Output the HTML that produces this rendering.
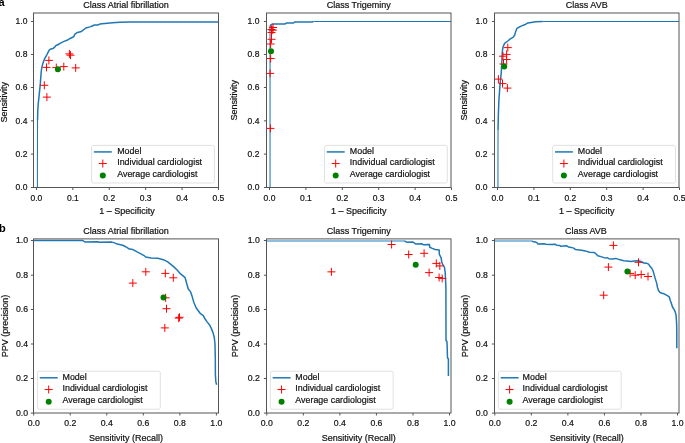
<!DOCTYPE html>
<html><head><meta charset="utf-8"><style>
html,body{margin:0;padding:0;background:#fff;}
svg{display:block;}
text{font-family:"Liberation Sans", sans-serif;fill:#111;stroke:#111;stroke-width:0.2px;filter:grayscale(1);}
.tk{font-size:8.5px;}
.tk2{font-size:8.7px;}
.lb{font-size:9px;}
.lg{font-size:8.9px;}
.yl{stroke-width:0.2px;}
.pl{font-size:11px;font-weight:bold;fill:#000;stroke:none;}
</style></head><body>
<svg width="685" height="443" viewBox="0 0 685 443">
<rect width="685" height="443" fill="#fff"/>
<clipPath id="ct0"><rect x="33.5" y="13.0" width="185" height="174.5"/></clipPath>
<polyline clip-path="url(#ct0)" points="37.4,187.4 37.45,150 37.55,120" fill="none" stroke="#1f77b4" stroke-width="1.05" stroke-linejoin="round"/>
<polyline clip-path="url(#ct0)" points="37.55,120 37.8,110 38.2,104.2 39.2,94.7 40.2,85.2 40.8,77.1 41.3,71 41.75,68 42.4,65.1 43.45,61.7 44.8,58.3 46.8,54.9 48.2,52.2 48.9,50.6 50.2,49.2 52.9,48.6 54.6,47.2 56,45.5 58.3,44.5 60,43.4 63.5,41.6 67,40.3 69.6,38.7 73.6,36.8 74.9,34.2 77.5,32.4 81.5,31.4 85.8,28 89.8,26.9 92.8,25.8 94.2,25 97.7,25 99.8,24.1 104.7,23.4 112.5,22.8 120,22.25 130,22.1 218.5,22.1" fill="none" stroke="#1f77b4" stroke-width="1.5" stroke-linejoin="round"/>
<path d="M44.9 60.4H52.9M48.9 56.4V64.4" stroke="#ff0000" stroke-width="1"/>
<path d="M42.5 67.4H50.5M46.5 63.4V71.4" stroke="#ff0000" stroke-width="1"/>
<path d="M52.3 67.6H60.3M56.3 63.6V71.6" stroke="#ff0000" stroke-width="1"/>
<path d="M59.8 66.6H67.8M63.8 62.6V70.6" stroke="#ff0000" stroke-width="1"/>
<path d="M71.7 67.9H79.7M75.7 63.9V71.9" stroke="#ff0000" stroke-width="1"/>
<path d="M65.4 53.9H73.4M69.4 49.9V57.9" stroke="#ff0000" stroke-width="1"/>
<path d="M66.5 55.2H74.5M70.5 51.2V59.2" stroke="#ff0000" stroke-width="1"/>
<path d="M40.3 85.3H48.3M44.3 81.3V89.3" stroke="#ff0000" stroke-width="1"/>
<path d="M42.9 97.1H50.9M46.9 93.1V101.1" stroke="#ff0000" stroke-width="1"/>
<circle cx="57.9" cy="69.2" r="3" fill="#008000"/>
<rect x="33.5" y="13.0" width="185" height="174.5" fill="none" stroke="#555" stroke-width="1"/>
<line x1="36.45" y1="187.5" x2="36.45" y2="190" stroke="#555" stroke-width="1"/>
<text x="36.45" y="201" text-anchor="middle" class="tk">0.0</text>
<line x1="72.85" y1="187.5" x2="72.85" y2="190" stroke="#555" stroke-width="1"/>
<text x="72.85" y="201" text-anchor="middle" class="tk">0.1</text>
<line x1="109.25" y1="187.5" x2="109.25" y2="190" stroke="#555" stroke-width="1"/>
<text x="109.25" y="201" text-anchor="middle" class="tk">0.2</text>
<line x1="145.65" y1="187.5" x2="145.65" y2="190" stroke="#555" stroke-width="1"/>
<text x="145.65" y="201" text-anchor="middle" class="tk">0.3</text>
<line x1="182.05" y1="187.5" x2="182.05" y2="190" stroke="#555" stroke-width="1"/>
<text x="182.05" y="201" text-anchor="middle" class="tk">0.4</text>
<line x1="218.45" y1="187.5" x2="218.45" y2="190" stroke="#555" stroke-width="1"/>
<text x="218.45" y="201" text-anchor="middle" class="tk">0.5</text>
<line x1="30.9" y1="187.5" x2="33.5" y2="187.5" stroke="#555" stroke-width="1"/>
<text x="27.4" y="190.45" text-anchor="end" class="tk">0.0</text>
<line x1="30.9" y1="154.1" x2="33.5" y2="154.1" stroke="#555" stroke-width="1"/>
<text x="27.4" y="157.05" text-anchor="end" class="tk">0.2</text>
<line x1="30.9" y1="120.85" x2="33.5" y2="120.85" stroke="#555" stroke-width="1"/>
<text x="27.4" y="123.8" text-anchor="end" class="tk">0.4</text>
<line x1="30.9" y1="87.5" x2="33.5" y2="87.5" stroke="#555" stroke-width="1"/>
<text x="27.4" y="90.45" text-anchor="end" class="tk">0.6</text>
<line x1="30.9" y1="54.5" x2="33.5" y2="54.5" stroke="#555" stroke-width="1"/>
<text x="27.4" y="57.45" text-anchor="end" class="tk">0.8</text>
<line x1="30.9" y1="21.5" x2="33.5" y2="21.5" stroke="#555" stroke-width="1"/>
<text x="27.4" y="24.45" text-anchor="end" class="tk">1.0</text>
<text x="126" y="8" text-anchor="middle" class="lb">Class Atrial fibrillation</text>
<text x="127.1" y="213.5" text-anchor="middle" class="lb">1 – Specificity</text>
<text transform="translate(6.8,102.35) rotate(-90)" text-anchor="middle" class="lb yl">Sensitivity</text>
<rect x="91.6" y="145.4" width="122.8" height="37.6" rx="1.8" fill="#fff" fill-opacity="0.8" stroke="#d9d9d9" stroke-width="0.8"/>
<line x1="93.9" y1="151.92" x2="111.8" y2="151.92" stroke="#1f77b4" stroke-width="1.5"/>
<path d="M98.8 163.55H106.8M102.8 159.55V167.55" stroke="#ff0000" stroke-width="1"/>
<circle cx="102.8" cy="175.58" r="3" fill="#008000"/>
<text x="117.2" y="154" class="lg">Model</text>
<text x="117.2" y="165.3" class="lg">Individual cardiologist</text>
<text x="117.2" y="177.2" class="lg">Average cardiologist</text>
<clipPath id="ct1"><rect x="266.5" y="13.0" width="184.5" height="174.5"/></clipPath>
<polyline clip-path="url(#ct1)" points="270.05,187.4 270.05,28" fill="none" stroke="#1f77b4" stroke-width="1.05" stroke-linejoin="round"/>
<polyline clip-path="url(#ct1)" points="313.4,21.5 451,21.45" fill="none" stroke="#1f77b4" stroke-width="1.05" stroke-linejoin="round"/>
<polyline clip-path="url(#ct1)" points="270.05,28 270.1,26.5 270.6,25.2 271.6,24.4 273.1,24 284.8,24 286.9,22.9 293.5,22.9 295,21.9 311.9,22 313.4,21.5" fill="none" stroke="#1f77b4" stroke-width="1.5" stroke-linejoin="round"/>
<path d="M269 27.5H277M273 23.5V31.5" stroke="#ff0000" stroke-width="1"/>
<path d="M267.5 29.5H275.5M271.5 25.5V33.5" stroke="#ff0000" stroke-width="1"/>
<path d="M268.8 30.2H276.8M272.8 26.2V34.2" stroke="#ff0000" stroke-width="1"/>
<path d="M267.5 32.5H275.5M271.5 28.5V36.5" stroke="#ff0000" stroke-width="1"/>
<path d="M267.5 39.3H275.5M271.5 35.3V43.3" stroke="#ff0000" stroke-width="1"/>
<path d="M266.6 44H274.6M270.6 40V48" stroke="#ff0000" stroke-width="1"/>
<path d="M266.6 58.5H274.6M270.6 54.5V62.5" stroke="#ff0000" stroke-width="1"/>
<path d="M266.1 73.4H274.1M270.1 69.4V77.4" stroke="#ff0000" stroke-width="1"/>
<path d="M266.4 128.4H274.4M270.4 124.4V132.4" stroke="#ff0000" stroke-width="1"/>
<circle cx="271" cy="51.3" r="3" fill="#008000"/>
<rect x="266.5" y="13.0" width="184.5" height="174.5" fill="none" stroke="#555" stroke-width="1"/>
<line x1="269.5" y1="187.5" x2="269.5" y2="190" stroke="#555" stroke-width="1"/>
<text x="269.5" y="201" text-anchor="middle" class="tk">0.0</text>
<line x1="305.9" y1="187.5" x2="305.9" y2="190" stroke="#555" stroke-width="1"/>
<text x="305.9" y="201" text-anchor="middle" class="tk">0.1</text>
<line x1="342.3" y1="187.5" x2="342.3" y2="190" stroke="#555" stroke-width="1"/>
<text x="342.3" y="201" text-anchor="middle" class="tk">0.2</text>
<line x1="378.7" y1="187.5" x2="378.7" y2="190" stroke="#555" stroke-width="1"/>
<text x="378.7" y="201" text-anchor="middle" class="tk">0.3</text>
<line x1="415.1" y1="187.5" x2="415.1" y2="190" stroke="#555" stroke-width="1"/>
<text x="415.1" y="201" text-anchor="middle" class="tk">0.4</text>
<line x1="451.5" y1="187.5" x2="451.5" y2="190" stroke="#555" stroke-width="1"/>
<text x="451.5" y="201" text-anchor="middle" class="tk">0.5</text>
<line x1="263.9" y1="187.5" x2="266.5" y2="187.5" stroke="#555" stroke-width="1"/>
<text x="259.45" y="190.45" text-anchor="end" class="tk">0.0</text>
<line x1="263.9" y1="154.1" x2="266.5" y2="154.1" stroke="#555" stroke-width="1"/>
<text x="259.45" y="157.05" text-anchor="end" class="tk">0.2</text>
<line x1="263.9" y1="120.85" x2="266.5" y2="120.85" stroke="#555" stroke-width="1"/>
<text x="259.45" y="123.8" text-anchor="end" class="tk">0.4</text>
<line x1="263.9" y1="87.5" x2="266.5" y2="87.5" stroke="#555" stroke-width="1"/>
<text x="259.45" y="90.45" text-anchor="end" class="tk">0.6</text>
<line x1="263.9" y1="54.5" x2="266.5" y2="54.5" stroke="#555" stroke-width="1"/>
<text x="259.45" y="57.45" text-anchor="end" class="tk">0.8</text>
<line x1="263.9" y1="21.5" x2="266.5" y2="21.5" stroke="#555" stroke-width="1"/>
<text x="259.45" y="24.45" text-anchor="end" class="tk">1.0</text>
<text x="358.75" y="8" text-anchor="middle" class="lb">Class Trigeminy</text>
<text x="358.75" y="213.5" text-anchor="middle" class="lb">1 – Specificity</text>
<text transform="translate(237.25,100.25) rotate(-90)" text-anchor="middle" class="lb yl">Sensitivity</text>
<rect x="324.5" y="145.4" width="122.8" height="37.6" rx="1.8" fill="#fff" fill-opacity="0.8" stroke="#d9d9d9" stroke-width="0.8"/>
<line x1="326.8" y1="151.92" x2="344.7" y2="151.92" stroke="#1f77b4" stroke-width="1.5"/>
<path d="M331.7 163.55H339.7M335.7 159.55V167.55" stroke="#ff0000" stroke-width="1"/>
<circle cx="335.7" cy="175.58" r="3" fill="#008000"/>
<text x="349.8" y="154" class="lg">Model</text>
<text x="349.8" y="165.3" class="lg">Individual cardiologist</text>
<text x="349.8" y="177.2" class="lg">Average cardiologist</text>
<clipPath id="ct2"><rect x="494.5" y="13.0" width="184.5" height="174.5"/></clipPath>
<polyline clip-path="url(#ct2)" points="497.95,187.4 497.98,150 498.05,130" fill="none" stroke="#1f77b4" stroke-width="1.05" stroke-linejoin="round"/>
<polyline clip-path="url(#ct2)" points="542.8,21.6 560,21.5 679,21.5" fill="none" stroke="#1f77b4" stroke-width="1.05" stroke-linejoin="round"/>
<polyline clip-path="url(#ct2)" points="498.05,130 498.3,116.5 498.9,100 499.5,92 500.1,83.6 500.8,77 501.3,72 501.8,62.3 502.1,55.5 502.5,50.1 503.1,46.7 504.6,43.4 507.8,41 510,39.2 513.3,37.2 514.7,35 515.5,32.1 516.9,28.4 518.8,27.3 521.7,25.9 524.6,24.8 527.5,23.1 531.2,22.4 535.5,21.8 542.8,21.6" fill="none" stroke="#1f77b4" stroke-width="1.5" stroke-linejoin="round"/>
<path d="M503.8 47.6H511.8M507.8 43.6V51.6" stroke="#ff0000" stroke-width="1"/>
<path d="M502.6 54.4H510.6M506.6 50.4V58.4" stroke="#ff0000" stroke-width="1"/>
<path d="M499 56.2H507M503 52.2V60.2" stroke="#ff0000" stroke-width="1"/>
<path d="M502.6 59.5H510.6M506.6 55.5V63.5" stroke="#ff0000" stroke-width="1"/>
<path d="M499.5 64H507.5M503.5 60V68" stroke="#ff0000" stroke-width="1"/>
<path d="M494.4 79.1H502.4M498.4 75.1V83.1" stroke="#ff0000" stroke-width="1"/>
<path d="M498.5 83.6H506.5M502.5 79.6V87.6" stroke="#ff0000" stroke-width="1"/>
<path d="M503.4 88.1H511.4M507.4 84.1V92.1" stroke="#ff0000" stroke-width="1"/>
<circle cx="504.2" cy="66.4" r="3" fill="#008000"/>
<rect x="494.5" y="13.0" width="184.5" height="174.5" fill="none" stroke="#555" stroke-width="1"/>
<line x1="497.5" y1="187.5" x2="497.5" y2="190" stroke="#555" stroke-width="1"/>
<text x="497.5" y="201" text-anchor="middle" class="tk">0.0</text>
<line x1="533.9" y1="187.5" x2="533.9" y2="190" stroke="#555" stroke-width="1"/>
<text x="533.9" y="201" text-anchor="middle" class="tk">0.1</text>
<line x1="570.3" y1="187.5" x2="570.3" y2="190" stroke="#555" stroke-width="1"/>
<text x="570.3" y="201" text-anchor="middle" class="tk">0.2</text>
<line x1="606.7" y1="187.5" x2="606.7" y2="190" stroke="#555" stroke-width="1"/>
<text x="606.7" y="201" text-anchor="middle" class="tk">0.3</text>
<line x1="643.1" y1="187.5" x2="643.1" y2="190" stroke="#555" stroke-width="1"/>
<text x="643.1" y="201" text-anchor="middle" class="tk">0.4</text>
<line x1="679.5" y1="187.5" x2="679.5" y2="190" stroke="#555" stroke-width="1"/>
<text x="679.5" y="201" text-anchor="middle" class="tk">0.5</text>
<line x1="491.9" y1="187.5" x2="494.5" y2="187.5" stroke="#555" stroke-width="1"/>
<text x="487.4" y="190.45" text-anchor="end" class="tk">0.0</text>
<line x1="491.9" y1="154.1" x2="494.5" y2="154.1" stroke="#555" stroke-width="1"/>
<text x="487.4" y="157.05" text-anchor="end" class="tk">0.2</text>
<line x1="491.9" y1="120.85" x2="494.5" y2="120.85" stroke="#555" stroke-width="1"/>
<text x="487.4" y="123.8" text-anchor="end" class="tk">0.4</text>
<line x1="491.9" y1="87.5" x2="494.5" y2="87.5" stroke="#555" stroke-width="1"/>
<text x="487.4" y="90.45" text-anchor="end" class="tk">0.6</text>
<line x1="491.9" y1="54.5" x2="494.5" y2="54.5" stroke="#555" stroke-width="1"/>
<text x="487.4" y="57.45" text-anchor="end" class="tk">0.8</text>
<line x1="491.9" y1="21.5" x2="494.5" y2="21.5" stroke="#555" stroke-width="1"/>
<text x="487.4" y="24.45" text-anchor="end" class="tk">1.0</text>
<text x="586.75" y="8" text-anchor="middle" class="lb">Class AVB</text>
<text x="586.75" y="213.5" text-anchor="middle" class="lb">1 – Specificity</text>
<text transform="translate(466.5,100.25) rotate(-90)" text-anchor="middle" class="lb yl">Sensitivity</text>
<rect x="552.7" y="145.4" width="122.8" height="37.6" rx="1.8" fill="#fff" fill-opacity="0.8" stroke="#d9d9d9" stroke-width="0.8"/>
<line x1="555" y1="151.92" x2="572.9" y2="151.92" stroke="#1f77b4" stroke-width="1.5"/>
<path d="M559.9 163.55H567.9M563.9 159.55V167.55" stroke="#ff0000" stroke-width="1"/>
<circle cx="563.9" cy="175.58" r="3" fill="#008000"/>
<text x="577.8" y="154" class="lg">Model</text>
<text x="577.8" y="165.3" class="lg">Individual cardiologist</text>
<text x="577.8" y="177.2" class="lg">Average cardiologist</text>
<clipPath id="cb0"><rect x="33.5" y="238.9" width="185" height="174.1"/></clipPath>
<polyline clip-path="url(#cb0)" points="33.6,240.4 82.6,240.4 84.8,242 97.9,241.8 99.2,242.3 111.9,242.1 114.5,242.9 117.2,244.1 120.7,244.8 123.3,245.5 126.8,247.4 129.4,249.1 132.9,249.6 137.6,252.2 143.7,255.3 145.7,257 151.2,258 157.9,258.3 163.3,259.7 167.4,261.7 170.8,264.4 174.2,267.1 177.6,270.5 180.3,273.7 185.1,277.7 186.6,283.2 188.2,288.7 190.6,291.9 192.2,296.6 193.8,302.2 196.1,307.7 200.1,313.3 203.3,315.6 204.9,318.8 207.3,322.1 209.8,325.3 211.4,328.6 213,332.6 214.3,337.5 215,344 215.3,358.7 215.4,374.9 215.8,381.4 216.6,384.7" fill="none" stroke="#1f77b4" stroke-width="1.5" stroke-linejoin="round"/>
<path d="M141.8 271.8H149.8M145.8 267.8V275.8" stroke="#ff0000" stroke-width="1"/>
<path d="M128.8 283.1H136.8M132.8 279.1V287.1" stroke="#ff0000" stroke-width="1"/>
<path d="M161.3 273.4H169.3M165.3 269.4V277.4" stroke="#ff0000" stroke-width="1"/>
<path d="M169.3 277.8H177.3M173.3 273.8V281.8" stroke="#ff0000" stroke-width="1"/>
<path d="M161.6 297.8H169.6M165.6 293.8V301.8" stroke="#ff0000" stroke-width="1"/>
<path d="M162.5 308.7H170.5M166.5 304.7V312.7" stroke="#ff0000" stroke-width="1"/>
<path d="M175.5 317.3H183.5M179.5 313.3V321.3" stroke="#ff0000" stroke-width="1"/>
<path d="M174.7 318.1H182.7M178.7 314.1V322.1" stroke="#ff0000" stroke-width="1"/>
<path d="M160.8 327.9H168.8M164.8 323.9V331.9" stroke="#ff0000" stroke-width="1"/>
<circle cx="163.5" cy="297.4" r="3" fill="#008000"/>
<rect x="33.5" y="238.9" width="185" height="174.1" fill="none" stroke="#555" stroke-width="1"/>
<line x1="33.7" y1="413.0" x2="33.7" y2="415.5" stroke="#555" stroke-width="1"/>
<text x="33.7" y="426.2" text-anchor="middle" class="tk2">0.0</text>
<line x1="70.24" y1="413.0" x2="70.24" y2="415.5" stroke="#555" stroke-width="1"/>
<text x="70.24" y="426.2" text-anchor="middle" class="tk2">0.2</text>
<line x1="106.78" y1="413.0" x2="106.78" y2="415.5" stroke="#555" stroke-width="1"/>
<text x="106.78" y="426.2" text-anchor="middle" class="tk2">0.4</text>
<line x1="143.32" y1="413.0" x2="143.32" y2="415.5" stroke="#555" stroke-width="1"/>
<text x="143.32" y="426.2" text-anchor="middle" class="tk2">0.6</text>
<line x1="179.86" y1="413.0" x2="179.86" y2="415.5" stroke="#555" stroke-width="1"/>
<text x="179.86" y="426.2" text-anchor="middle" class="tk2">0.8</text>
<line x1="216.4" y1="413.0" x2="216.4" y2="415.5" stroke="#555" stroke-width="1"/>
<text x="216.4" y="426.2" text-anchor="middle" class="tk2">1.0</text>
<line x1="30.9" y1="413.1" x2="33.5" y2="413.1" stroke="#555" stroke-width="1"/>
<text x="28" y="416.05" text-anchor="end" class="tk2">0.0</text>
<line x1="30.9" y1="378.5" x2="33.5" y2="378.5" stroke="#555" stroke-width="1"/>
<text x="28" y="381.45" text-anchor="end" class="tk2">0.2</text>
<line x1="30.9" y1="344" x2="33.5" y2="344" stroke="#555" stroke-width="1"/>
<text x="28" y="346.95" text-anchor="end" class="tk2">0.4</text>
<line x1="30.9" y1="309.5" x2="33.5" y2="309.5" stroke="#555" stroke-width="1"/>
<text x="28" y="312.45" text-anchor="end" class="tk2">0.6</text>
<line x1="30.9" y1="275.2" x2="33.5" y2="275.2" stroke="#555" stroke-width="1"/>
<text x="28" y="278.15" text-anchor="end" class="tk2">0.8</text>
<line x1="30.9" y1="240.5" x2="33.5" y2="240.5" stroke="#555" stroke-width="1"/>
<text x="28" y="243.45" text-anchor="end" class="tk2">1.0</text>
<text x="126" y="233.9" text-anchor="middle" class="lb">Class Atrial fibrillation</text>
<text x="126" y="441.3" text-anchor="middle" class="lb">Sensitivity (Recall)</text>
<text transform="translate(7.7,325.95) rotate(-90)" text-anchor="middle" class="lb yl">PPV (precision)</text>
<rect x="37.5" y="371.2" width="122.8" height="38.0" rx="1.8" fill="#fff" fill-opacity="0.8" stroke="#d9d9d9" stroke-width="0.8"/>
<line x1="39.8" y1="377.79" x2="57.7" y2="377.79" stroke="#1f77b4" stroke-width="1.5"/>
<path d="M44.7 389.54H52.7M48.7 385.54V393.54" stroke="#ff0000" stroke-width="1"/>
<circle cx="48.7" cy="401.7" r="3" fill="#008000"/>
<text x="62.5" y="380.1" class="lg">Model</text>
<text x="62.5" y="391.1" class="lg">Individual cardiologist</text>
<text x="62.5" y="402.8" class="lg">Average cardiologist</text>
<clipPath id="cb1"><rect x="266.5" y="238.9" width="184.5" height="174.1"/></clipPath>
<line x1="266.3" y1="241" x2="404.6" y2="241" stroke="#8dbfe0" stroke-width="2"/>
<polyline clip-path="url(#cb1)" points="404.4,241 406.8,242.2 413,242 415.5,243.9 422.1,243.7 423.2,244.8 429.4,244.4 429.8,247.3 432.3,248.4 435.2,249.5 439.2,249.9 439.3,254.2 441.1,257.9 441.8,262 442.8,264.7 444.4,267.1 445.2,272.6 445.9,287.4 446,340.6 446.9,341.3 447.1,344.4 447.5,357.7 448.4,359 448.4,376" fill="none" stroke="#1f77b4" stroke-width="1.5" stroke-linejoin="round"/>
<path d="M327.4 271.85H335.4M331.4 267.85V275.85" stroke="#ff0000" stroke-width="1"/>
<path d="M387.6 244.5H395.6M391.6 240.5V248.5" stroke="#ff0000" stroke-width="1"/>
<path d="M404.7 254.5H412.7M408.7 250.5V258.5" stroke="#ff0000" stroke-width="1"/>
<path d="M420.1 253.3H428.1M424.1 249.3V257.3" stroke="#ff0000" stroke-width="1"/>
<path d="M432.3 263.4H440.3M436.3 259.4V267.4" stroke="#ff0000" stroke-width="1"/>
<path d="M435.8 265.9H443.8M439.8 261.9V269.9" stroke="#ff0000" stroke-width="1"/>
<path d="M425.1 272.6H433.1M429.1 268.6V276.6" stroke="#ff0000" stroke-width="1"/>
<path d="M435.1 277.5H443.1M439.1 273.5V281.5" stroke="#ff0000" stroke-width="1"/>
<path d="M438.2 278.4H446.2M442.2 274.4V282.4" stroke="#ff0000" stroke-width="1"/>
<circle cx="415.7" cy="264.8" r="3" fill="#008000"/>
<rect x="266.5" y="238.9" width="184.5" height="174.1" fill="none" stroke="#555" stroke-width="1"/>
<line x1="266.8" y1="413.0" x2="266.8" y2="415.5" stroke="#555" stroke-width="1"/>
<text x="266.8" y="426.2" text-anchor="middle" class="tk2">0.0</text>
<line x1="303.34" y1="413.0" x2="303.34" y2="415.5" stroke="#555" stroke-width="1"/>
<text x="303.34" y="426.2" text-anchor="middle" class="tk2">0.2</text>
<line x1="339.88" y1="413.0" x2="339.88" y2="415.5" stroke="#555" stroke-width="1"/>
<text x="339.88" y="426.2" text-anchor="middle" class="tk2">0.4</text>
<line x1="376.42" y1="413.0" x2="376.42" y2="415.5" stroke="#555" stroke-width="1"/>
<text x="376.42" y="426.2" text-anchor="middle" class="tk2">0.6</text>
<line x1="412.96" y1="413.0" x2="412.96" y2="415.5" stroke="#555" stroke-width="1"/>
<text x="412.96" y="426.2" text-anchor="middle" class="tk2">0.8</text>
<line x1="449.5" y1="413.0" x2="449.5" y2="415.5" stroke="#555" stroke-width="1"/>
<text x="449.5" y="426.2" text-anchor="middle" class="tk2">1.0</text>
<line x1="263.9" y1="413.1" x2="266.5" y2="413.1" stroke="#555" stroke-width="1"/>
<text x="259.85" y="416.05" text-anchor="end" class="tk2">0.0</text>
<line x1="263.9" y1="378.5" x2="266.5" y2="378.5" stroke="#555" stroke-width="1"/>
<text x="259.85" y="381.45" text-anchor="end" class="tk2">0.2</text>
<line x1="263.9" y1="344" x2="266.5" y2="344" stroke="#555" stroke-width="1"/>
<text x="259.85" y="346.95" text-anchor="end" class="tk2">0.4</text>
<line x1="263.9" y1="309.5" x2="266.5" y2="309.5" stroke="#555" stroke-width="1"/>
<text x="259.85" y="312.45" text-anchor="end" class="tk2">0.6</text>
<line x1="263.9" y1="275.2" x2="266.5" y2="275.2" stroke="#555" stroke-width="1"/>
<text x="259.85" y="278.15" text-anchor="end" class="tk2">0.8</text>
<line x1="263.9" y1="240.5" x2="266.5" y2="240.5" stroke="#555" stroke-width="1"/>
<text x="259.85" y="243.45" text-anchor="end" class="tk2">1.0</text>
<text x="358.75" y="233.9" text-anchor="middle" class="lb">Class Trigeminy</text>
<text x="358.75" y="441.3" text-anchor="middle" class="lb">Sensitivity (Recall)</text>
<text transform="translate(237.95,325.95) rotate(-90)" text-anchor="middle" class="lb yl">PPV (precision)</text>
<rect x="270.35" y="371.2" width="122.8" height="38.0" rx="1.8" fill="#fff" fill-opacity="0.8" stroke="#d9d9d9" stroke-width="0.8"/>
<line x1="272.65" y1="377.79" x2="290.55" y2="377.79" stroke="#1f77b4" stroke-width="1.5"/>
<path d="M277.55 389.54H285.55M281.55 385.54V393.54" stroke="#ff0000" stroke-width="1"/>
<circle cx="281.55" cy="401.7" r="3" fill="#008000"/>
<text x="295.35" y="380.1" class="lg">Model</text>
<text x="295.35" y="391.1" class="lg">Individual cardiologist</text>
<text x="295.35" y="402.8" class="lg">Average cardiologist</text>
<clipPath id="cb2"><rect x="494.5" y="238.9" width="184.5" height="174.1"/></clipPath>
<line x1="494.6" y1="241" x2="532.5" y2="241" stroke="#8dbfe0" stroke-width="2"/>
<polyline clip-path="url(#cb2)" points="532.3,241 532.6,241.4 535.3,242 537,242.6 537.9,244.1 544,243.7 545.8,244.3 550.1,244.5 555.4,244.3 556.7,245.2 559.8,245.5 560.6,246.3 566.8,245.8 568.5,246.9 571.2,247.4 573.8,248.1 575.5,249.6 581.7,250.2 585.2,250.9 589.5,252.3 594.3,252.6 595.6,253.4 597.8,255.8 601.8,256.9 605.3,258.1 607,257.6 608.8,258.7 612.3,259 615.8,258.4 619.3,259.6 623.7,260.7 627.2,260.9 630.7,261.5 634.2,260.9 638.5,260.7 642,262 643.8,263.1 646.8,263.3 648.6,264.2 650,266.4 651.8,268.2 653.1,271 654,274.1 655.4,279.1 656.8,283.6 657.5,287.5 658.5,290.5 659.8,292.3 661.2,293.1 664,293.8 667.4,295.7 669.4,297.2 670.2,300.2 671.4,303.6 672.5,307 674,309.3 675.3,312.1 676.1,315.5 676.4,320 676.7,325.6 676.8,335 676.8,348.3" fill="none" stroke="#1f77b4" stroke-width="1.5" stroke-linejoin="round"/>
<path d="M609.4 245.4H617.4M613.4 241.4V249.4" stroke="#ff0000" stroke-width="1"/>
<path d="M604.4 267.1H612.4M608.4 263.1V271.1" stroke="#ff0000" stroke-width="1"/>
<path d="M634.5 262.3H642.5M638.5 258.3V266.3" stroke="#ff0000" stroke-width="1"/>
<path d="M626.1 273.4H634.1M630.1 269.4V277.4" stroke="#ff0000" stroke-width="1"/>
<path d="M631.2 275.2H639.2M635.2 271.2V279.2" stroke="#ff0000" stroke-width="1"/>
<path d="M637.2 274.5H645.2M641.2 270.5V278.5" stroke="#ff0000" stroke-width="1"/>
<path d="M644 276.5H652M648 272.5V280.5" stroke="#ff0000" stroke-width="1"/>
<path d="M599.7 295.2H607.7M603.7 291.2V299.2" stroke="#ff0000" stroke-width="1"/>
<circle cx="627.4" cy="271.4" r="3" fill="#008000"/>
<rect x="494.5" y="238.9" width="184.5" height="174.1" fill="none" stroke="#555" stroke-width="1"/>
<line x1="494.8" y1="413.0" x2="494.8" y2="415.5" stroke="#555" stroke-width="1"/>
<text x="494.8" y="426.2" text-anchor="middle" class="tk2">0.0</text>
<line x1="531.34" y1="413.0" x2="531.34" y2="415.5" stroke="#555" stroke-width="1"/>
<text x="531.34" y="426.2" text-anchor="middle" class="tk2">0.2</text>
<line x1="567.88" y1="413.0" x2="567.88" y2="415.5" stroke="#555" stroke-width="1"/>
<text x="567.88" y="426.2" text-anchor="middle" class="tk2">0.4</text>
<line x1="604.42" y1="413.0" x2="604.42" y2="415.5" stroke="#555" stroke-width="1"/>
<text x="604.42" y="426.2" text-anchor="middle" class="tk2">0.6</text>
<line x1="640.96" y1="413.0" x2="640.96" y2="415.5" stroke="#555" stroke-width="1"/>
<text x="640.96" y="426.2" text-anchor="middle" class="tk2">0.8</text>
<line x1="677.5" y1="413.0" x2="677.5" y2="415.5" stroke="#555" stroke-width="1"/>
<text x="677.5" y="426.2" text-anchor="middle" class="tk2">1.0</text>
<line x1="491.9" y1="413.1" x2="494.5" y2="413.1" stroke="#555" stroke-width="1"/>
<text x="487.9" y="416.05" text-anchor="end" class="tk2">0.0</text>
<line x1="491.9" y1="378.5" x2="494.5" y2="378.5" stroke="#555" stroke-width="1"/>
<text x="487.9" y="381.45" text-anchor="end" class="tk2">0.2</text>
<line x1="491.9" y1="344" x2="494.5" y2="344" stroke="#555" stroke-width="1"/>
<text x="487.9" y="346.95" text-anchor="end" class="tk2">0.4</text>
<line x1="491.9" y1="309.5" x2="494.5" y2="309.5" stroke="#555" stroke-width="1"/>
<text x="487.9" y="312.45" text-anchor="end" class="tk2">0.6</text>
<line x1="491.9" y1="275.2" x2="494.5" y2="275.2" stroke="#555" stroke-width="1"/>
<text x="487.9" y="278.15" text-anchor="end" class="tk2">0.8</text>
<line x1="491.9" y1="240.5" x2="494.5" y2="240.5" stroke="#555" stroke-width="1"/>
<text x="487.9" y="243.45" text-anchor="end" class="tk2">1.0</text>
<text x="585.95" y="233.9" text-anchor="middle" class="lb">Class AVB</text>
<text x="586.75" y="441.3" text-anchor="middle" class="lb">Sensitivity (Recall)</text>
<text transform="translate(467.5,325.95) rotate(-90)" text-anchor="middle" class="lb yl">PPV (precision)</text>
<rect x="498.4" y="371.2" width="122.8" height="38.0" rx="1.8" fill="#fff" fill-opacity="0.8" stroke="#d9d9d9" stroke-width="0.8"/>
<line x1="500.7" y1="377.79" x2="518.6" y2="377.79" stroke="#1f77b4" stroke-width="1.5"/>
<path d="M505.6 389.54H513.6M509.6 385.54V393.54" stroke="#ff0000" stroke-width="1"/>
<circle cx="509.6" cy="401.7" r="3" fill="#008000"/>
<text x="522.6" y="380.1" class="lg">Model</text>
<text x="522.6" y="391.1" class="lg">Individual cardiologist</text>
<text x="522.6" y="402.8" class="lg">Average cardiologist</text>
<text x="-1.5" y="5.9" class="pl">a</text>
<text x="-1.0" y="231.5" class="pl">b</text>
</svg>
</body></html>
